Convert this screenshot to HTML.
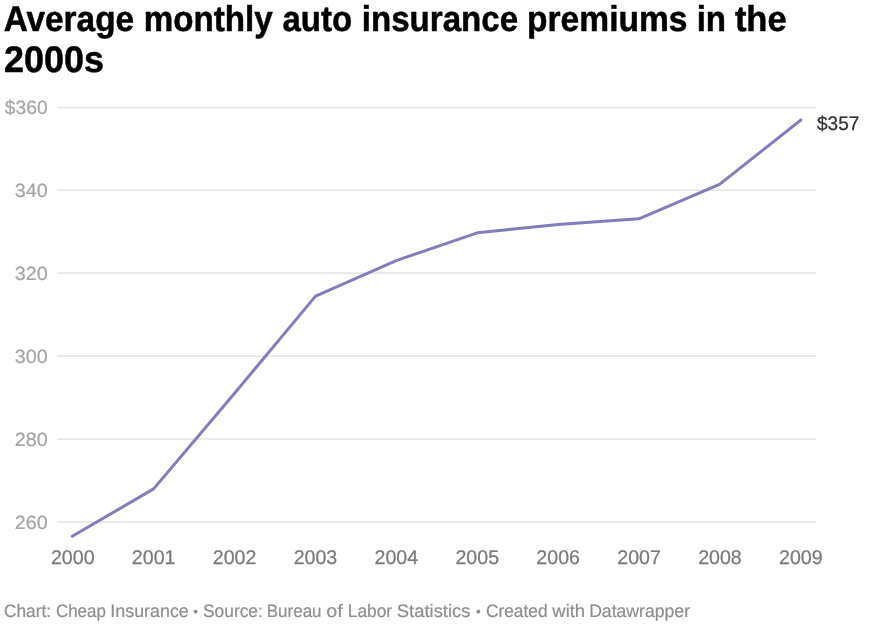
<!DOCTYPE html>
<html lang="en">
<head>
<meta charset="utf-8">
<title>Average monthly auto insurance premiums in the 2000s</title>
<style>
html,body{margin:0;padding:0;background:#fff;}
body{width:870px;height:629px;overflow:hidden;font-family:'Liberation Sans', Arial, Helvetica, sans-serif;}
svg{display:block;filter:blur(0.4px);}
text{font-family:'Liberation Sans', Arial, Helvetica, sans-serif;text-rendering:geometricPrecision;}
.t{font-weight:700;font-size:35.8px;fill:#000;stroke:#000;stroke-width:0.5px;stroke-linejoin:round;}
.t2{font-size:37px;}
.yl{font-size:19.3px;fill:#a5a5a5;stroke:#a5a5a5;stroke-width:0.22px;}
.xl{font-size:19.8px;fill:#7a7a7a;stroke:#7a7a7a;stroke-width:0.25px;}
.vl{font-size:19.6px;fill:#333;stroke:#333;stroke-width:0.25px;}
.ft{font-size:18px;fill:#8f8f8f;stroke:#8f8f8f;stroke-width:0.2px;}
</style>
</head>
<body>
<svg width="870" height="629" viewBox="0 0 870 629" role="img" aria-label="Line chart">
<rect x="0" y="0" width="870" height="629" fill="#ffffff"/>
<g stroke="#e7e7e7" stroke-width="1.7" fill="none">
<line x1="57.3" x2="816" y1="107.60" y2="107.60"/>
<line x1="57.3" x2="816" y1="190.20" y2="190.20"/>
<line x1="57.3" x2="816" y1="273.20" y2="273.20"/>
<line x1="57.3" x2="816" y1="356.20" y2="356.20"/>
<line x1="57.3" x2="816" y1="439.10" y2="439.10"/>
<line x1="57.3" x2="816" y1="522.20" y2="522.20"/>
</g>
<polyline fill="none" stroke="#827ebd" stroke-width="3" stroke-linejoin="round" stroke-linecap="round" points="72.3,536.3 153.6,488.9 234.6,393.2 315.6,296.1 396.8,260.4 477.3,232.8 558.3,224.5 638.8,218.8 719.5,184.4 800.9,120.0"/>
<text class="t"><tspan x="3.63" y="30.80" textLength="130.49" lengthAdjust="spacingAndGlyphs">Average</tspan> <tspan x="143.69" y="30.80" textLength="128.96" lengthAdjust="spacingAndGlyphs">monthly</tspan> <tspan x="282.48" y="30.80" textLength="69.57" lengthAdjust="spacingAndGlyphs">auto</tspan> <tspan x="361.76" y="30.80" textLength="156.35" lengthAdjust="spacingAndGlyphs">insurance</tspan> <tspan x="527.06" y="30.80" textLength="160.45" lengthAdjust="spacingAndGlyphs">premiums</tspan> <tspan x="696.69" y="30.80" textLength="29.38" lengthAdjust="spacingAndGlyphs">in</tspan> <tspan x="734.89" y="30.80" textLength="51.74" lengthAdjust="spacingAndGlyphs">the</tspan> <tspan style="font-size:37px" x="4.07" y="71.80" textLength="99.85" lengthAdjust="spacingAndGlyphs">2000s</tspan></text>
<text class="yl"><tspan x="4.86" y="114.00" textLength="42.75" lengthAdjust="spacingAndGlyphs">$360</tspan></text>
<text class="yl"><tspan x="14.85" y="196.60" textLength="32.96" lengthAdjust="spacingAndGlyphs">340</tspan></text>
<text class="yl"><tspan x="14.85" y="279.60" textLength="32.96" lengthAdjust="spacingAndGlyphs">320</tspan></text>
<text class="yl"><tspan x="14.85" y="362.60" textLength="32.96" lengthAdjust="spacingAndGlyphs">300</tspan></text>
<text class="yl"><tspan x="14.78" y="445.50" textLength="32.89" lengthAdjust="spacingAndGlyphs">280</tspan></text>
<text class="yl"><tspan x="14.78" y="528.60" textLength="32.89" lengthAdjust="spacingAndGlyphs">260</tspan></text>
<text class="xl"><tspan x="50.96" y="563.60" textLength="43.58" lengthAdjust="spacingAndGlyphs">2000</tspan> <tspan x="131.86" y="563.60" textLength="43.58" lengthAdjust="spacingAndGlyphs">2001</tspan> <tspan x="212.76" y="563.60" textLength="43.58" lengthAdjust="spacingAndGlyphs">2002</tspan> <tspan x="293.66" y="563.60" textLength="43.58" lengthAdjust="spacingAndGlyphs">2003</tspan> <tspan x="374.56" y="563.60" textLength="43.58" lengthAdjust="spacingAndGlyphs">2004</tspan> <tspan x="455.46" y="563.60" textLength="43.58" lengthAdjust="spacingAndGlyphs">2005</tspan> <tspan x="536.36" y="563.60" textLength="43.58" lengthAdjust="spacingAndGlyphs">2006</tspan> <tspan x="617.26" y="563.60" textLength="43.58" lengthAdjust="spacingAndGlyphs">2007</tspan> <tspan x="698.16" y="563.60" textLength="43.58" lengthAdjust="spacingAndGlyphs">2008</tspan> <tspan x="779.06" y="563.60" textLength="43.58" lengthAdjust="spacingAndGlyphs">2009</tspan></text>
<text class="vl"><tspan x="817.03" y="130.40" textLength="42.41" lengthAdjust="spacingAndGlyphs">$357</tspan></text>
<text class="ft"><tspan x="4.03" y="617.00" textLength="47.11" lengthAdjust="spacingAndGlyphs">Chart:</tspan> <tspan x="55.95" y="617.00" textLength="49.89" lengthAdjust="spacingAndGlyphs">Cheap</tspan> <tspan x="110.31" y="617.00" textLength="78.51" lengthAdjust="spacingAndGlyphs">Insurance</tspan> <tspan x="193.17" y="615.50" style="font-size:13.3px">•</tspan> <tspan x="202.93" y="617.00" textLength="59.97" lengthAdjust="spacingAndGlyphs">Source:</tspan> <tspan x="266.76" y="617.00" textLength="54.81" lengthAdjust="spacingAndGlyphs">Bureau</tspan> <tspan x="326.31" y="617.00" textLength="16.48" lengthAdjust="spacingAndGlyphs">of</tspan> <tspan x="347.77" y="617.00" textLength="44.33" lengthAdjust="spacingAndGlyphs">Labor</tspan> <tspan x="396.79" y="617.00" textLength="73.72" lengthAdjust="spacingAndGlyphs">Statistics</tspan> <tspan x="475.97" y="615.50" style="font-size:13.3px">•</tspan> <tspan x="485.90" y="617.00" textLength="61.73" lengthAdjust="spacingAndGlyphs">Created</tspan> <tspan x="552.37" y="617.00" textLength="32.74" lengthAdjust="spacingAndGlyphs">with</tspan> <tspan x="589.14" y="617.00" textLength="100.90" lengthAdjust="spacingAndGlyphs">Datawrapper</tspan></text>
</svg>
</body>
</html>
